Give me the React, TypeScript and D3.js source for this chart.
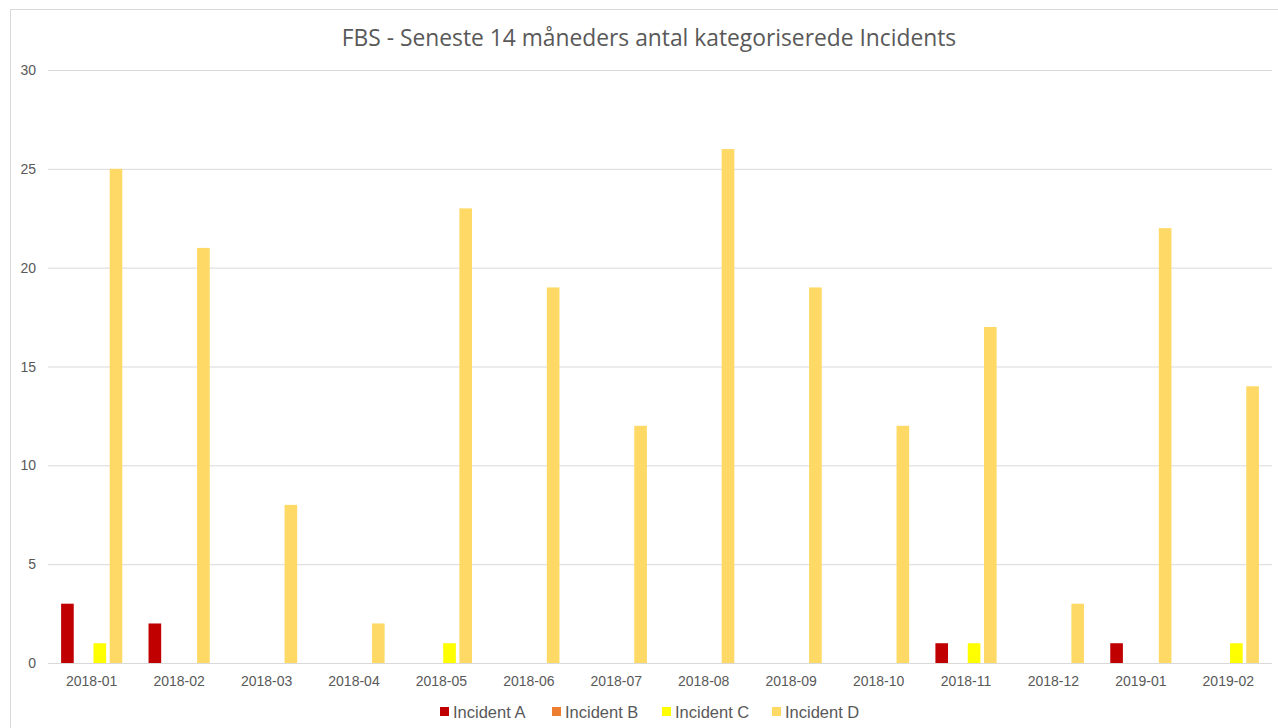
import React from "react";
import * as d3 from "d3";

const categories = ["2018-01","2018-02","2018-03","2018-04","2018-05","2018-06","2018-07","2018-08","2018-09","2018-10","2018-11","2018-12","2019-01","2019-02"];
const seriesNames = ["Incident A","Incident B","Incident C","Incident D"];
const incidentA = [3,2,0,0,0,0,0,0,0,0,1,0,1,0];
const incidentB = [0,0,0,0,0,0,0,0,0,0,0,0,0,0];
const incidentC = [1,0,0,0,1,0,0,0,0,0,1,0,0,1];
const incidentD = [25,21,8,2,23,19,12,26,19,12,17,3,22,14];
const yTicks = [0,5,10,15,20,25,30];
const colors = ["#C00000","#ED7D31","#FFFF00","#FFD966"];
const title = "FBS - Seneste 14 måneders antal kategoriserede Incidents";

export default function App() {
  const W = 1278, H = 728;
  const left = 48, right = 1272, top = 70, bottom = 663;
  const seriesVals = [incidentA, incidentB, incidentC, incidentD];
  const x0 = d3.scaleBand<string>().domain(categories).range([left, right]).paddingInner(0.3).paddingOuter(0.15);
  const x1 = d3.scaleBand<string>().domain(seriesNames).range([0, x0.bandwidth()]).paddingInner(0.22);
  const y = d3.scaleLinear().domain([0, 30]).range([bottom, top]);
  const font = "'Liberation Sans', Arial, sans-serif";

  const legendX = [440, 552, 662, 772];

  return (
    <svg width={W} height={H} style={{ position: "absolute", left: 0, top: 0, background: "#fff" }}>
      <rect x={10.5} y={9.5} width={1290} height={740} fill="#fff" stroke="#d9d9d9" />
      <text x={649} y={46} textAnchor="middle" fontFamily="'Open Sans', 'Noto Sans', sans-serif" fontSize={22.8} fill="#595959">{title}</text>
      {yTicks.map(t => (
        <g key={t}>
          <line x1={left} x2={right} y1={y(t) + 0.5} y2={y(t) + 0.5} stroke="#d9d9d9" strokeWidth={1} />
          <text x={36} y={y(t) + 5} textAnchor="end" fontFamily={font} fontSize={14} fill="#595959">{t}</text>
        </g>
      ))}
      {categories.map((c, i) => (
        <g key={c}>
          {seriesNames.map((s, j) => {
            const v = seriesVals[j][i];
            if (!v) return null;
            return <rect key={s} x={(x0(c) as number) + (x1(s) as number)} y={y(v)} width={x1.bandwidth()} height={y(0) - y(v)} fill={colors[j]} />;
          })}
          <text x={(x0(c) as number) + x0.bandwidth() / 2} y={686} textAnchor="middle" fontFamily={font} fontSize={14} fill="#595959">{c}</text>
        </g>
      ))}
      {seriesNames.map((s, j) => (
        <g key={s}>
          <rect x={legendX[j]} y={707} width={9} height={9} fill={colors[j]} />
          <text x={legendX[j] + 13} y={718} fontFamily={font} fontSize={16.5} fill="#595959">{s}</text>
        </g>
      ))}
    </svg>
  );
}
